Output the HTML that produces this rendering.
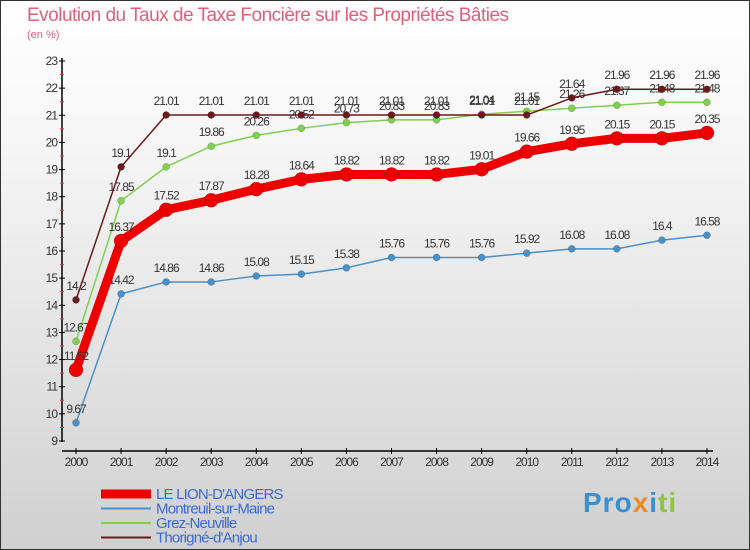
<!DOCTYPE html>
<html><head><meta charset="utf-8"><style>
body{margin:0}
#c{position:relative;width:748px;height:548px;border:1px solid #333;background:linear-gradient(#fff 0%,#f4f4f4 30%,#d0d0d0 100%);font-family:"Liberation Sans",sans-serif;overflow:hidden}
</style></head><body>
<div id="c">
<div style="position:absolute;left:26px;top:4px;font-size:19px;color:#e0607a;letter-spacing:-0.5px">Evolution du Taux de Taxe Foncière sur les Propriétés Bâties</div>
<div style="position:absolute;left:26px;top:28px;font-size:11px;color:#e0607a">(en %)</div>
<svg id="s" width="748" height="548" style="position:absolute;left:0;top:0"></svg>
<div style="position:absolute;left:582px;top:486px;font-size:28px;font-weight:bold;letter-spacing:1px"><span style="color:#3a8fd0">Pro</span><span style="color:#f08a20">x</span><span style="color:#3a8fd0">i</span><span style="color:#8cc63f">ti</span></div>
</div>
<script>
const years=[2000,2001,2002,2003,2004,2005,2006,2007,2008,2009,2010,2011,2012,2013,2014];
const yTicks=[9,10,11,12,13,14,15,16,17,18,19,20,21,22,23];
const lion=[11.62,16.37,17.52,17.87,18.28,18.64,18.82,18.82,18.82,19.01,19.66,19.95,20.15,20.15,20.35];
const montreuil=[9.67,14.42,14.86,14.86,15.08,15.15,15.38,15.76,15.76,15.76,15.92,16.08,16.08,16.4,16.58];
const grez=[12.67,17.85,19.1,19.86,20.26,20.52,20.73,20.83,20.83,21.04,21.15,21.26,21.37,21.48,21.48];
const thorigne=[14.2,19.1,21.01,21.01,21.01,21.01,21.01,21.01,21.01,21.01,21.01,21.64,21.96,21.96,21.96];
const names=["LE LION-D'ANGERS","Montreuil-sur-Maine","Grez-Neuville","Thorigné-d'Anjou"];
const s=document.getElementById('s');const NS='http://www.w3.org/2000/svg';
const X=i=>75+i*45.07, Y=v=>440-(v-9)*380/14;
function el(t,a,p){const e=document.createElementNS(NS,t);for(const k in a)e.setAttribute(k,a[k]);(p||s).appendChild(e);return e;}
const ax=el('line',{x1:61,y1:57,x2:61,y2:441,stroke:'#000','stroke-width':1.5});


const xa=el('line',{x1:61,y1:450,x2:712,y2:450,stroke:'#000','stroke-width':1.5});


yTicks.forEach(v=>{el('line',{x1:58,x2:64,y1:Y(v),y2:Y(v),stroke:'#000'});
 if(v<23)el('line',{x1:59,x2:63,y1:Y(v+0.5),y2:Y(v+0.5),stroke:'#e33'});
 const t=el('text',{x:56,y:Y(v)+4,'text-anchor':'end','font-size':12,fill:'#333','letter-spacing':'-1'});t.textContent=v;
 
 });
years.forEach((yr,i)=>{el('line',{x1:X(i),x2:X(i),y1:447,y2:453,stroke:'#000'});
 const t=el('text',{x:X(i),y:465,'text-anchor':'middle','font-size':12,fill:'#333','letter-spacing':'-1'});t.textContent=yr;
 
 });
const series=[[montreuil,'#4a90c8',1.5,3.5,'montreuil'],[grez,'#80d050',1.5,3.5,'grez'],[thorigne,'#6b1a1a',1.5,3.5,'thorigne'],[lion,'#ee0000',9,7,'lion']];
series.forEach(([d,c,w,r,n])=>{
 const g=el('g',{});
 
 
 el('polyline',{points:d.map((v,i)=>X(i)+','+Y(v)).join(' '),fill:'none',stroke:c,'stroke-width':w,'stroke-linejoin':'round'},g);
 d.forEach((v,i)=>{const p=el('circle',{cx:X(i),cy:Y(v),r:r,fill:c,stroke:'rgba(0,0,0,0.3)','stroke-width':0.5},g);
  
  
  const t=el('text',{x:X(i),y:Y(v)-10,'text-anchor':'middle','font-size':12,fill:'#333','letter-spacing':'-1'},g);t.textContent=v;});
});
const cols=['#ee0000','#4a90c8','#80d050','#6b1a1a'],ws=[9,2,2,2];
names.forEach((n,i)=>{const y=493+i*14.5;
 const l=el('line',{x1:100,x2:150,y1:y,y2:y,stroke:cols[i],'stroke-width':ws[i]});
 
 
 const t=el('text',{x:155,y:y+5,'font-size':15,fill:'#3a6ad8','letter-spacing':'-0.8'});t.textContent=n;
 
 });
</script>
</body></html>
